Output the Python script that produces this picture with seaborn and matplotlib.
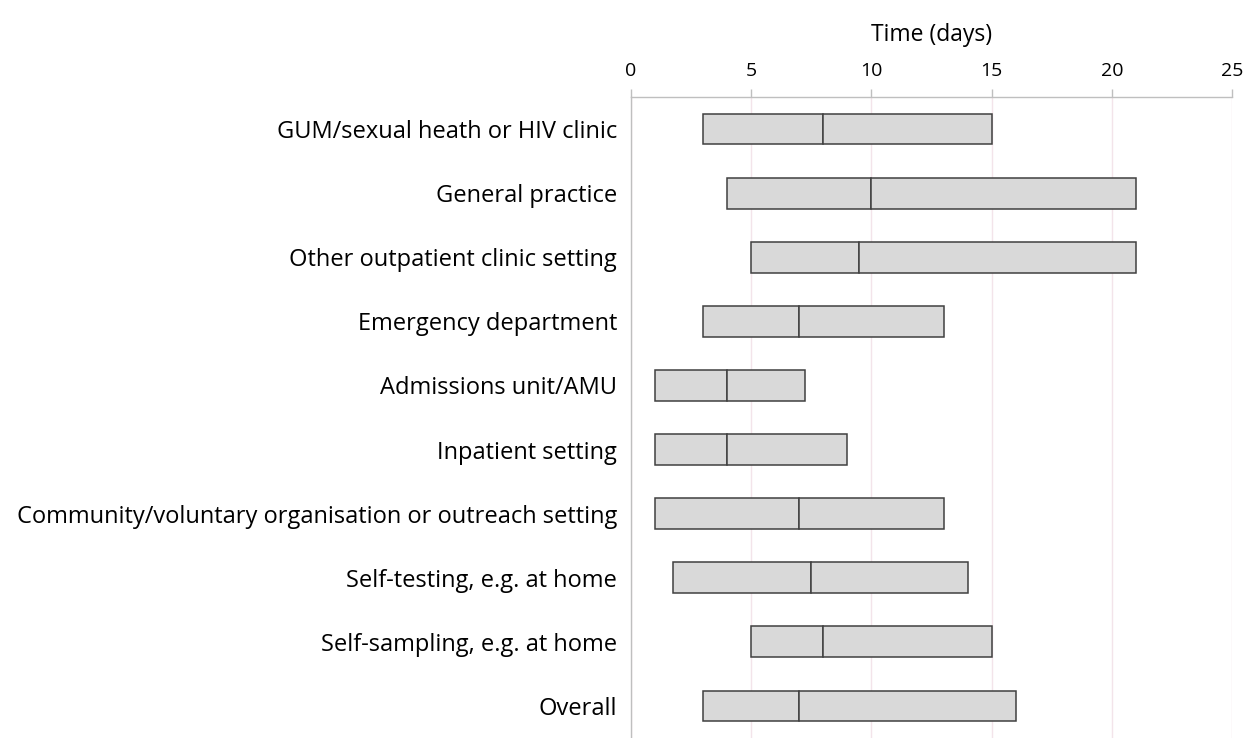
import numpy as np
import pandas as pd
import matplotlib
matplotlib.use("Agg")
import matplotlib.pyplot as plt
import seaborn as sns

# Interquartile range and median of time to result, by setting
settings = [
    "GUM/sexual heath or HIV clinic",
    "General practice",
    "Other outpatient clinic setting",
    "Emergency department",
    "Admissions unit/AMU",
    "Inpatient setting",
    "Community/voluntary organisation or outreach setting",
    "Self-testing, e.g. at home",
    "Self-sampling, e.g. at home",
    "Overall",
]
q1 = [3, 4, 5, 3, 1, 1, 1, 1.75, 5, 3]
median = [8, 10, 9.5, 7, 4, 4, 7, 7.5, 8, 7]
q3 = [15, 21, 21, 13, 7.25, 9, 13, 14, 15, 16]
x_ticks = [0, 5, 10, 15, 20, 25]

df = pd.DataFrame({"setting": settings, "q1": q1, "median": median, "q3": q3})
df["lower"] = df["median"] - df["q1"]
df["upper"] = df["q3"] - df["median"]

sns.set_theme(style="white")
plt.rcParams["font.family"] = ["Open Sans", "DejaVu Sans"]

fig = plt.figure(figsize=(12.5, 7.38), dpi=100)
ax = fig.add_axes([0.5048, 0.0, 0.4808, 0.8686])

bar_style = dict(color="#d9d9d9", edgecolor="#404040", linewidth=1.1,
                 saturation=1, errorbar=None, width=0.48, orient="h", ax=ax)
# q1 -> median, then median -> q3; the shared edge is the median line
sns.barplot(data=df, x="lower", y="setting", left=df["q1"].values, **bar_style)
sns.barplot(data=df, x="upper", y="setting", left=df["median"].values, **bar_style)

ax.set_xlim(0, 25)
ax.set_ylim(len(settings) - 0.5, -0.5)
ax.xaxis.tick_top()
ax.xaxis.set_label_position("top")
ax.set_xticks(x_ticks)
ax.set_xlabel("Time (days)", fontsize=16.5, color="#000000", labelpad=15)
ax.set_ylabel("")
ax.tick_params(axis="x", direction="out", length=5.5, width=1, color="#bfbfbf",
               labelsize=14, labelcolor="#000000", pad=7)

# category labels at the centres, tick marks at the boundaries
ax.set_yticks(range(len(settings)))
ax.set_yticklabels(settings)
ax.set_yticks(np.arange(-0.5, len(settings), 1.0), minor=True)
ax.tick_params(axis="y", which="major", length=0, labelsize=17,
               labelcolor="#000000", pad=10)
ax.tick_params(axis="y", which="minor", direction="out", length=5.5, width=1,
               color="#bfbfbf")

ax.grid(axis="x", color="#f3e4ea", linewidth=1)
ax.set_axisbelow(True)
for side in ["right", "bottom"]:
    ax.spines[side].set_visible(False)
for side in ["left", "top"]:
    ax.spines[side].set_color("#bfbfbf")
    ax.spines[side].set_linewidth(1)

plt.savefig("out.png", dpi=100)
plt.close()
